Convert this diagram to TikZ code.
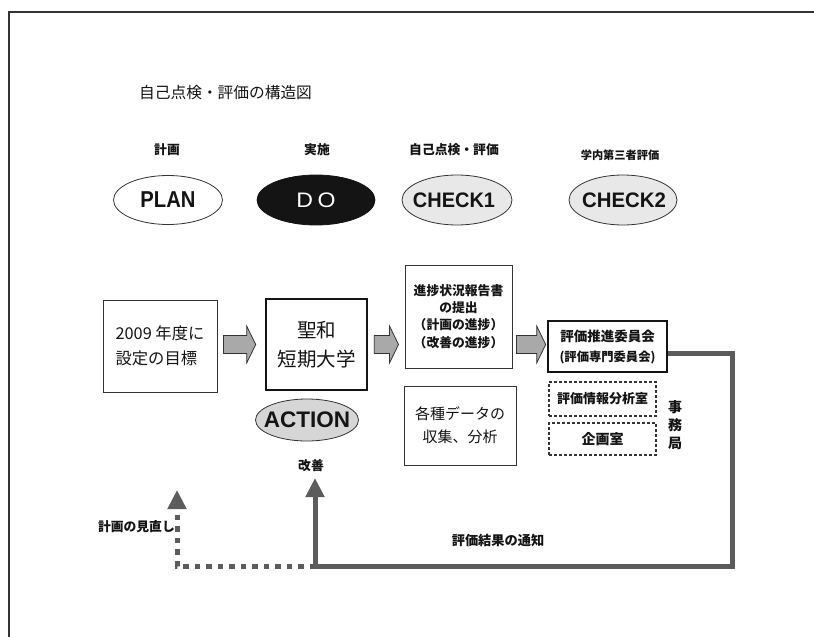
\documentclass[tikz,border=0pt]{standalone}
\usepackage{fontspec}
\usepackage{graphicx}
\setmainfont{Noto Sans CJK JP}
\newfontfamily\latin{Liberation Sans}
\usetikzlibrary{shapes.geometric,arrows.meta,calc}
\definecolor{ink}{HTML}{141414}
\definecolor{edge}{HTML}{333333}
\definecolor{fbgray}{HTML}{5C5C5C}
\definecolor{arrowfill}{HTML}{A9A9A9}
\definecolor{ovalfill}{HTML}{E8E8E8}
\definecolor{actfill}{HTML}{D6D6D6}
\newcommand\blockarr[2]{\draw[barrow] let \p1=(#1), \p2=(#2) in
  (\x1,\y1+9pt) -- (\x2-9pt,\y1+9pt) -- (\x2-9pt,\y1+18.5pt) -- (\x2,\y1)
  -- (\x2-9pt,\y1-18.5pt) -- (\x2-9pt,\y1-9pt) -- (\x1,\y1-9pt) -- cycle;}
\begin{document}
\begin{tikzpicture}[x=1pt,y=-1pt,
  box/.style={draw=edge, line width=1pt, inner sep=0pt, align=center, text=ink},
  thickbox/.style={box, line width=2.6pt, draw=ink},
  dbox/.style={box, dash pattern=on 3pt off 2pt, line width=1.3pt},
  oval/.style={ellipse, draw=edge, line width=0.8pt, inner sep=0pt},
  ovaltext/.style={font=\latin\bfseries\fontsize{21}{21}\selectfont, text=ink, inner sep=0pt},
  lbl/.style={font=\bfseries\fontsize{12.8}{12.8}\selectfont, text=ink, inner sep=0pt},
  barrow/.style={draw=edge, fill=arrowfill, line width=0.8pt, line join=miter},
  fb/.style={draw=fbgray, line width=5pt},
  fbtip/.style={-{Triangle[length=19pt,width=18pt,fill=fbgray]}},
]
\useasboundingbox (0,0) rectangle (814,637);
\fill[white] (0,0) rectangle (814,637);
% frame
\draw[line width=1.2pt, draw=edge] (9,637) -- (9,12) -- (814,12);

% title
\node[anchor=west, inner sep=0pt, text=ink, font=\fontsize{15.7}{15.7}\selectfont] (title) at (139,93) {自己点検・評価の構造図};

% phase labels
\node[lbl] (lplan) at (167,150) {計画};
\node[lbl] (ldo) at (317,150) {実施};
\node[lbl] (lc1) at (454,150) {自己点検・評価};
\node[lbl, font=\bfseries\fontsize{11.2}{11.2}\selectfont] (lc2) at (620,155) {学内第三者評価};

% ellipses
\node[oval, minimum width=109pt, minimum height=49pt] (plan) at (168,200) {};
\node[ovaltext, font=\latin\bfseries\fontsize{23}{23}\selectfont] (plant) at (plan) {\scalebox{0.88}[1]{PLAN}};
\node[oval, fill=ink, draw=ink, minimum width=118pt, minimum height=50pt] (do) at (316,200) {};
\node[ovaltext, font=\latin\fontsize{21}{21}\selectfont, text=white] (dot) at (do) {\scalebox{1.1}[1]{D\kern4pt O}};
\node[oval, fill=ovalfill, minimum width=110pt, minimum height=50pt] (c1) at (457,200) {};
\node[ovaltext] (c1t) at (454,200) {\scalebox{0.95}[1]{CHECK1}};
\node[oval, fill=ovalfill, minimum width=108pt, minimum height=50pt] (c2) at (623,200) {};
\node[ovaltext] (c2t) at (624,200) {\scalebox{0.97}[1]{CHECK2}};
\node[oval, fill=actfill, minimum width=103pt, minimum height=42pt] (act) at (307,420) {};
\node[ovaltext, font=\latin\bfseries\fontsize{22.5}{22.5}\selectfont] (actt) at (act) {ACTION};

% boxes
\node[box, minimum width=114pt, minimum height=92pt, align=left, font=\fontsize{16.3}{25}\selectfont] (b1) at (160,346) {2009 年度に\\設定の目標};
\node[thickbox, minimum width=101pt, minimum height=91pt, font=\fontsize{19.5}{29}\selectfont] (b2) at (316.5,344.5) {聖和\\短期大学};
\node[box, minimum width=107pt, minimum height=103pt, font=\bfseries\fontsize{12.8}{17.3}\selectfont] (b3) at (458.5,316.5) {進捗状況報告書\\の提出\\（計画の進捗）\\（改善の進捗）};
\node[thickbox, minimum width=119pt, minimum height=51pt, font=\bfseries\fontsize{13.5}{20}\selectfont] (b4) at (607.5,346.5) {評価推進委員会\\{\fontsize{12.3}{20}\selectfont(評価専門委員会)}};
\node[dbox, minimum width=107pt, minimum height=34pt, font=\bfseries\fontsize{13}{13}\selectfont] (d1) at (602.5,399) {評価情報分析室};
\node[dbox, minimum width=107pt, minimum height=32pt, font=\bfseries\fontsize{14}{14}\selectfont] (d2) at (602.5,439) {企画室};
\node[inner sep=0pt, align=center, text=ink, font=\bfseries\fontsize{14}{18}\selectfont] (jm) at (675,425) {事\\務\\局};
\node[box, minimum width=112pt, minimum height=79pt, font=\fontsize{15}{23}\selectfont] (b5) at (460,425.5) {各種データの\\収集、分析};

% block arrows
\blockarr{$(b1.east |- b2.east)+(6,0)$}{$(b2.west)+(-9,0)$}
\blockarr{$(b2.east)+(6,0)$}{$(b3.west |- b2.east)+(-6,0)$}
\blockarr{$(b3.east |- b2.east)+(4,0)$}{$(b4.west |- b2.east)+(-1,0)$}

% bottom labels
\node[lbl] (imp) at (311,466) {改善};
\node[lbl, font=\bfseries\fontsize{13.2}{13.2}\selectfont] (notify) at (498,540) {評価結果の通知};
\node[lbl, anchor=east] (review) at (175,527) {計画の見直し};

% feedback paths
\coordinate (fbR) at (732,566);
\coordinate (fbL) at (315,566);
\coordinate (fbD) at (177,566);
\coordinate (tipA) at (315,478);
\coordinate (tipB) at (177,490);
\draw[fb, line cap=butt, dash pattern=on 5.5pt off 6pt, fbtip] (fbL) -- (fbD) -- (tipB);
\draw[fb, fbtip] ($(b4.east)+(0,6.5)$) -| (fbR) -- (fbL) -- (tipA);
\end{tikzpicture}
\end{document}
